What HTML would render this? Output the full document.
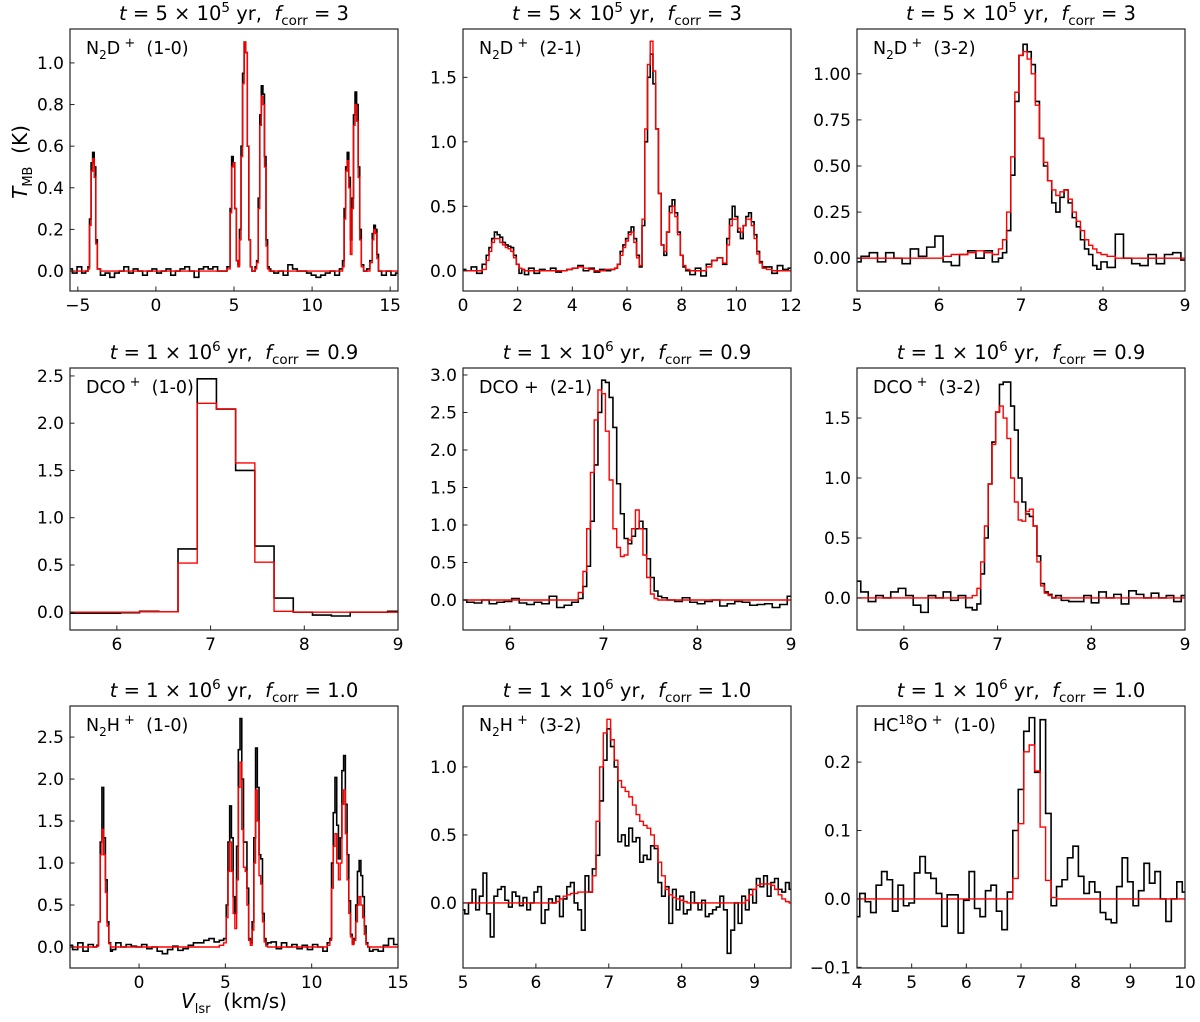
<!DOCTYPE html>
<html><head><meta charset="utf-8"><style>
html,body{margin:0;padding:0;background:#fff;}
svg{display:block;font-family:"DejaVu Sans","Liberation Sans",sans-serif;}
</style></head><body>
<svg id="fig" width="1200" height="1022" viewBox="0 0 1200 1022" xmlns="http://www.w3.org/2000/svg">
<rect width="1200" height="1022" fill="#fff"/>
<text transform="translate(27,162) rotate(-90)" text-anchor="middle" font-size="20"><tspan font-style="italic">T</tspan><tspan font-size="13" dy="5">MB</tspan><tspan dy="-5">&#160;&#160;(K)</tspan></text>
<text x="234" y="1008" text-anchor="middle" font-size="20"><tspan font-style="italic">V</tspan><tspan font-size="13" dy="5">lsr</tspan><tspan dy="-5">&#160;&#160;(km/s)</tspan></text>
</svg>
<script>
// ---- Panel 1: N2D+ (1-0)
const p1Vel = [-5.5,-5.2,-4.9,-4.6,-4.4,
 -4.3,-4.2,-4.1,-4.0,-3.9,-3.8,-3.7,
 -3.4,-3.1,-2.8,-2.5,-2.2,-1.9,-1.6,-1.3,-1.0,-0.7,-0.4,-0.1,0.2,0.5,0.8,1.1,1.4,1.7,2.0,2.3,2.6,2.9,3.2,3.5,3.8,4.1,4.4,
 4.7,4.8,4.9,5.0,5.1,5.2,5.3,5.4,5.5,5.6,5.7,5.8,5.9,6.0,6.1,6.2,6.3,6.4,6.5,6.6,6.7,6.8,6.9,7.0,7.1,7.2,7.3,7.4,
 7.7,8.0,8.3,8.6,8.9,9.2,9.5,9.8,10.1,10.4,10.7,11.0,11.3,11.6,11.9,
 12.0,12.1,12.2,12.3,12.4,12.5,12.6,12.7,12.8,12.9,13.0,13.1,13.2,13.4,13.6,13.8,13.9,14.0,14.1,14.2,14.3,
 14.6,14.9,15.2,15.5];
const p1Obs = [0.01,-0.01,0.02,-0.01,0.0,
 0.02,0.25,0.52,0.57,0.50,0.15,0.01,
 -0.02,-0.01,-0.03,-0.01,0.0,0.02,-0.01,0.01,0.0,-0.02,0.0,0.01,-0.01,0.0,0.01,-0.02,0.0,0.01,0.02,0.0,-0.03,0.01,0.02,0.01,0.02,0.0,0.0,
 0.02,0.3,0.55,0.52,0.3,0.05,0.03,0.2,0.6,0.95,1.10,1.05,0.6,0.15,0.02,0.0,0.0,0.02,0.05,0.35,0.75,0.89,0.85,0.55,0.15,0.02,0.01,0.0,
 -0.01,0.0,-0.02,0.03,0.01,0.0,0.0,-0.01,-0.02,-0.03,-0.02,-0.01,0.0,-0.02,0.01,
 0.05,0.3,0.5,0.57,0.45,0.15,0.35,0.75,0.86,0.8,0.5,0.2,0.03,0.0,0.01,0.05,0.18,0.22,0.2,0.08,0.0,
 -0.02,0.0,-0.02,-0.01];
const p1Mod = [0,0,0,0,0,
 0.01,0.22,0.48,0.54,0.45,0.13,0.01,
 0,0,0,0,0,0,0,0,0,0,0,0,0,0,0,0,0,0,0,0,0,0,0,0,0,0,0,
 0.01,0.28,0.50,0.52,0.3,0.05,0.02,0.15,0.55,0.9,1.10,1.05,0.6,0.15,0.02,0.0,0.0,0.01,0.04,0.3,0.7,0.84,0.80,0.5,0.12,0.01,0.0,0.0,
 0,0,0,0,0,0,0,0,0,0,0,0,0,0,0,
 0.02,0.25,0.48,0.53,0.4,0.08,0.3,0.7,0.80,0.72,0.45,0.15,0.02,0.0,0.0,0.04,0.15,0.20,0.18,0.06,0.0,
 0,0,0,0];
const p1XTicks = [-5,0,5,10,15];
const p1YTicks = [0,0.2,0.4,0.6,0.8,1.0];
const p1YLabels = ["0.0","0.2","0.4","0.6","0.8","1.0"];

// ---- Panel 2: N2D+ (2-1)
const p2Vel = [0,0.2,0.4,0.6,0.8,
 0.9,1.0,1.1,1.2,1.3,1.4,1.5,1.6,1.7,1.8,1.9,2.0,2.1,2.2,2.3,
 2.5,2.7,2.9,3.1,3.3,3.5,3.7,3.9,4.1,4.3,4.5,4.7,4.9,5.1,5.3,5.5,
 5.6,5.7,5.8,5.9,6.0,6.1,6.2,6.3,6.4,6.5,6.6,6.7,6.8,6.9,7.0,7.1,7.2,7.3,7.4,7.5,7.6,7.7,7.8,7.9,8.0,8.1,8.2,
 8.4,8.6,8.8,9.0,9.2,9.4,9.6,
 9.7,9.8,9.9,10.0,10.1,10.2,10.3,10.4,10.5,10.6,10.7,10.8,10.9,11.0,
 11.2,11.4,11.6,11.8,12.0];
const p2Obs = [0.01,0.0,0.03,-0.02,0.05,
 0.12,0.18,0.25,0.30,0.28,0.26,0.22,0.20,0.19,0.18,0.12,0.05,-0.02,0.01,-0.03,
 0.02,-0.02,0.01,0.0,0.02,-0.01,0.0,0.01,0.02,0.04,0.0,0.02,-0.01,0.01,0.0,0.01,
 0.02,0.05,0.15,0.2,0.25,0.3,0.34,0.25,0.12,0.03,0.35,1.0,1.5,1.68,1.45,1.1,0.6,0.2,0.12,0.3,0.5,0.55,0.45,0.3,0.12,0.03,0.0,
 -0.03,0.02,-0.04,0.05,0.08,0.1,0.05,
 0.25,0.4,0.5,0.42,0.3,0.25,0.35,0.42,0.45,0.38,0.28,0.15,0.07,0.03,
 0.03,-0.02,0.04,0.01,0.02];
const p2Mod = [0,0,0,0,0.01,
 0.08,0.15,0.22,0.25,0.25,0.22,0.2,0.18,0.17,0.15,0.1,0.05,0.02,0.01,0.0,
 0,0,0,0,0,0,0,0.01,0.02,0.03,0.02,0.01,0.0,0.0,0.01,0.01,
 0.02,0.05,0.12,0.18,0.23,0.28,0.30,0.22,0.1,0.04,0.4,1.1,1.6,1.78,1.55,1.1,0.6,0.2,0.15,0.3,0.45,0.5,0.42,0.28,0.12,0.04,0.01,
 0,0,0,0.03,0.08,0.1,0.06,
 0.2,0.35,0.4,0.4,0.33,0.3,0.35,0.4,0.4,0.35,0.25,0.13,0.06,0.02,
 0.01,0,0,0,0];
const p2XTicks = [0,2,4,6,8,10,12];
const p2YTicks = [0,0.5,1.0,1.5];
const p2YLabels = ["0.0","0.5","1.0","1.5"];

// ---- Panel 3: N2D+ (3-2)
const p3Vel = [5.0,5.1,5.2,5.3,5.4,5.5,5.6,5.7,5.8,5.9,6.0,6.1,6.2,6.3,6.4,6.5,6.6,
 6.7,6.75,6.8,6.85,6.9,6.95,7.0,7.05,7.1,7.15,7.2,7.25,7.3,7.35,7.4,7.45,7.5,7.55,7.6,7.65,7.7,7.75,7.8,7.85,7.9,7.95,8.0,
 8.1,8.2,8.3,8.4,8.5,8.6,8.7,8.8,8.9,9.0];
const p3Obs = [-0.02,0.01,0.03,-0.02,0.03,0.0,-0.03,0.05,0.01,0.06,0.12,-0.02,-0.04,0.02,0.04,0.0,0.04,
 -0.02,0.0,0.03,0.15,0.45,0.85,1.1,1.16,1.12,1.05,0.85,0.65,0.5,0.42,0.3,0.25,0.33,0.37,0.3,0.22,0.17,0.1,0.05,0.02,-0.04,-0.06,-0.02,
 -0.05,0.13,0.0,-0.03,-0.04,0.02,-0.03,0.02,0.03,-0.01];
const p3Mod = [0,0,0,0,0,0,0,0,0,0,0,0.01,0.02,0.02,0.03,0.04,0.03,
 0.02,0.05,0.1,0.25,0.55,0.9,1.1,1.12,1.08,1.0,0.83,0.65,0.52,0.42,0.37,0.34,0.36,0.37,0.32,0.25,0.2,0.15,0.1,0.07,0.05,0.03,0.02,
 0.01,0,0,0,0,0,0,0,0,0];
const p3XTicks = [5,6,7,8,9];
const p3YTicks = [0,0.25,0.5,0.75,1.0];
const p3YLabels = ["0.00","0.25","0.50","0.75","1.00"];

// ---- Panel 4: DCO+ (1-0)
const p4Vel = [5.525,5.73,5.935,6.14,6.345,6.55,6.755,6.96,7.165,7.37,7.575,7.78,7.985,8.19,8.39,8.59,8.79,8.99];
const p4Obs = [-0.01,-0.01,-0.01,-0.005,0.01,0.005,0.67,2.47,2.15,1.5,0.7,0.15,0.0,-0.03,-0.04,0.0,0.0,0.01];
const p4Mod = [0,0,0,0,0.005,0.005,0.52,2.21,2.15,1.58,0.53,0.01,0,0,0,0,0,0];
const p4XTicks = [6,7,8,9];
const p4YTicks = [0,0.5,1.0,1.5,2.0,2.5];
const p4YLabels = ["0.0","0.5","1.0","1.5","2.0","2.5"];

// ---- Panel 5: DCO+ (2-1)
const p5Vel = [5.5,5.58,5.66,5.74,5.82,5.9,5.98,6.06,6.14,6.22,6.3,6.38,6.46,6.54,6.62,6.70,
 6.76,6.80,6.84,6.88,6.92,6.96,7.00,7.04,7.08,7.12,7.16,7.20,7.24,7.28,7.32,7.36,7.40,7.44,7.48,7.52,7.56,7.60,
 7.64,7.72,7.80,7.88,7.96,8.04,8.12,8.20,8.28,8.36,8.44,8.52,8.60,8.68,8.76,8.84,8.92,9.0];
const p5Obs = [0.0,-0.03,-0.04,0.0,-0.05,-0.03,-0.02,0.02,-0.04,-0.06,-0.03,-0.05,0.05,-0.1,-0.07,-0.03,
 0.02,0.18,0.45,1.05,1.8,2.5,2.93,2.9,2.7,2.3,1.55,1.15,0.82,0.75,0.85,0.95,1.05,0.95,0.55,0.3,0.12,0.05,
 0.03,0.0,-0.02,0.03,-0.03,-0.05,-0.02,0.0,-0.08,-0.05,-0.02,-0.03,-0.07,-0.06,-0.05,-0.1,-0.06,0.05];
const p5Mod = [0,0,0,0,0,0,0,0,0,0,0,0,0,0,0,0,
 0.1,0.38,0.95,1.7,2.4,2.8,2.75,2.25,1.6,0.95,0.7,0.58,0.6,0.8,0.95,1.2,0.95,0.6,0.3,0.08,0.02,0.0,
 0,0,0,0,0,0,0,0,0,0,0,0,0,0,0,0,0,0];
const p5XTicks = [6,7,8,9];
const p5YTicks = [0,0.5,1.0,1.5,2.0,2.5,3.0];
const p5YLabels = ["0.0","0.5","1.0","1.5","2.0","2.5","3.0"];

// ---- Panel 6: DCO+ (3-2)
const p6Vel = [5.5,5.58,5.66,5.74,5.82,5.9,5.98,6.06,6.14,6.22,6.3,6.38,6.46,6.54,6.62,6.70,
 6.76,6.80,6.84,6.88,6.92,6.96,7.00,7.04,7.08,7.12,7.16,7.20,7.24,7.28,7.32,7.36,7.40,7.44,7.48,7.52,7.56,7.60,
 7.64,7.72,7.80,7.88,7.96,8.04,8.12,8.20,8.28,8.36,8.44,8.52,8.60,8.68,8.76,8.84,8.92,9.0];
const p6Obs = [0.14,0.05,-0.03,0.02,0.0,0.05,0.08,0.02,-0.06,-0.12,0.02,0.0,0.05,-0.02,0.02,-0.08,
 -0.1,-0.05,0.2,0.5,0.95,1.3,1.55,1.78,1.8,1.8,1.6,1.4,1.0,0.8,0.7,0.68,0.6,0.35,0.12,0.05,0.03,0.0,
 0.02,-0.02,-0.03,-0.03,0.02,-0.04,0.05,0.0,0.03,-0.05,0.06,0.03,0.0,0.04,0.0,0.02,-0.03,0.02];
const p6Mod = [0,0,0,0,0,0,0,0,0,0,0,0,0,0,0,0,
 0.02,0.08,0.3,0.6,0.95,1.28,1.55,1.6,1.5,1.33,1.0,0.8,0.65,0.64,0.72,0.74,0.6,0.3,0.1,0.04,0.02,0.0,
 0,0,0,0,0,0,0,0,0,0,0,0,0,0,0,0,0,0];
const p6XTicks = [6,7,8,9];
const p6YTicks = [0,0.5,1.0,1.5];
const p6YLabels = ["0.0","0.5","1.0","1.5"];

// ---- Panel 7: N2H+ (1-0)
const p7Vel = [-4,-3.7,-3.4,-3.1,-2.8,
 -2.5,-2.4,-2.3,-2.2,-2.1,-2.0,-1.9,-1.8,-1.7,-1.6,-1.5,
 -1.2,-0.9,-0.6,-0.3,0.0,0.3,0.6,0.9,1.2,1.5,1.8,2.1,2.4,2.7,3.0,3.3,3.6,3.9,4.2,4.5,4.8,
 5.0,5.1,5.2,5.3,5.4,5.5,5.6,5.7,5.8,5.9,6.0,6.1,6.2,6.3,6.4,6.5,6.6,6.7,6.8,6.9,7.0,7.1,7.2,7.3,7.4,7.5,
 7.8,8.1,8.4,8.7,9.0,9.3,9.6,9.9,10.2,10.5,10.8,
 11.0,11.1,11.2,11.3,11.4,11.5,11.6,11.7,11.8,11.9,12.0,12.1,12.2,12.3,12.4,12.5,12.6,12.7,12.8,12.9,13.0,13.1,13.2,13.3,13.4,
 13.7,14.0,14.3,14.6,14.9];
const p7Obs = [0.02,-0.03,0.05,-0.05,0.03,
 0.0,0.02,0.3,1.25,1.9,1.3,0.8,0.3,0.05,-0.05,-0.03,
 0.05,0.0,0.03,0.01,0.0,0.03,-0.02,0.0,-0.05,-0.08,-0.03,0.01,-0.04,-0.02,0.02,0.05,0.05,0.08,0.1,0.06,0.08,
 0.1,0.5,1.25,1.68,1.3,0.6,0.4,1.2,2.35,2.72,2.0,1.25,1.25,0.7,0.1,0.05,0.3,1.3,2.37,1.9,1.1,1.05,0.4,0.1,0.03,0.05,
 0.06,-0.02,0.05,0.0,0.03,-0.02,0.02,-0.03,0.03,0.0,-0.05,
 0.05,0.1,1.0,1.6,2.02,1.45,1.05,1.3,2.1,2.28,1.7,1.1,0.55,0.15,0.05,0.1,0.5,0.9,1.03,0.85,0.6,0.25,0.05,0.0,-0.05,
 -0.03,-0.05,0.02,0.1,0.03];
const p7Mod = [0,0,0,0,0,
 0,0.01,0.3,1.1,1.4,1.1,0.65,0.25,0.04,0.0,0.0,
 0,0,0,0,0,0,0,0,0,0,0,0,0,0,0,0,0,0,0,0,0.02,
 0.05,0.35,0.9,1.25,0.9,0.4,0.22,0.8,1.9,2.2,1.4,0.95,0.9,0.5,0.08,0.02,0.2,1.0,1.87,1.5,0.85,0.75,0.3,0.06,0.01,0.0,
 0,0,0,0,0,0,0,0,0,0,0,
 0.02,0.08,0.7,1.2,1.35,1.0,0.8,1.0,1.7,1.87,1.35,0.8,0.4,0.12,0.03,0.08,0.3,0.5,0.6,0.5,0.35,0.15,0.03,0.0,0.0,
 0,0,0,0,0];
const p7XTicks = [0,5,10,15];
const p7YTicks = [0,0.5,1.0,1.5,2.0,2.5];
const p7YLabels = ["0.0","0.5","1.0","1.5","2.0","2.5"];

// ---- Panel 8: N2H+ (3-2), channels 5.00..9.50 step 0.05
const p8Start = 5.0, p8Step = 0.05;
const p8Obs = [-0.05,-0.08,0.0,0.1,-0.05,0.05,0.22,-0.08,-0.25,0.05,0.1,0.12,0.02,-0.03,0.08,0.05,-0.02,0.04,-0.05,0.0,
 0.08,0.12,-0.15,-0.05,0.03,0.0,0.05,-0.1,0.03,0.12,0.15,0.0,-0.05,-0.2,0.2,0.08,0.25,0.35,0.75,1.05,
 1.28,1.15,1.0,0.45,0.5,0.42,0.55,0.45,0.48,0.3,0.35,0.32,0.42,0.4,0.15,0.05,0.12,-0.15,0.1,-0.05,
 0.05,-0.08,-0.05,0.08,0.0,-0.05,0.02,-0.1,-0.08,-0.05,-0.03,0.05,-0.05,-0.37,-0.2,0.0,-0.15,0.05,-0.05,0.1,
 0.0,0.18,0.12,0.2,0.05,0.15,0.18,0.1,0.08,0.15,0.1];
const p8Mod = [0,0,0,0,0,0,0,0,0,0,0,0,0,0,0,0,0,0,0,0,
 0,0,0,0,0,0,0.01,0.03,0.05,0.06,0.07,0.07,0.08,0.08,0.08,0.08,0.2,0.6,1.0,1.25,
 1.35,1.2,1.05,0.9,0.85,0.82,0.78,0.72,0.65,0.6,0.57,0.55,0.5,0.42,0.3,0.2,0.1,0.06,0.04,0.03,
 0.02,0.01,0,0,0,0,0,0,0,0,0,0,0,0,0,0,0,0,0.02,0.06,
 0.1,0.13,0.14,0.14,0.14,0.13,0.1,0.06,0.03,0.01,0.0];
const p8XTicks = [5,6,7,8,9];
const p8YTicks = [0,0.5,1.0];
const p8YLabels = ["0.0","0.5","1.0"];

// ---- Panel 9: HC18O+ (1-0), channels 4.0..10.0 step 0.1
const p9Start = 4.0, p9Step = 0.1;
const p9Obs = [-0.026,0.008,-0.004,-0.02,0.02,0.04,0.028,-0.018,0.02,-0.01,
 -0.006,0.038,0.062,0.038,0.03,0.008,-0.04,0.006,0.006,-0.05,
 -0.002,0.04,-0.014,-0.026,0.012,0.02,-0.018,-0.045,0.01,0.1,
 0.16,0.245,0.265,0.185,0.262,0.125,-0.01,0.018,0.028,0.06,
 0.077,0.033,0.008,0.025,0.01,-0.02,-0.03,-0.035,0.018,0.06,
 0.025,-0.01,0.012,0.052,0.023,0.04,0.0,-0.033,0.0,0.025,0.01];
const p9Mod = [0,0,0,0,0,0,0,0,0,0,
 0,0,0,0,0,0,0,0,0,0,
 0,0,0,0,0,0,0,0,0,0.03,
 0.11,0.215,0.225,0.187,0.105,0.027,0.002,0,0,0,
 0,0,0,0,0,0,0,0,0,0,
 0,0,0,0,0,0,0,0,0,0,0];
const p9XTicks = [4,5,6,7,8,9,10];
const p9YTicks = [-0.1,0,0.1,0.2];
const p9YLabels = ["\u22120.1","0.0","0.1","0.2"];

function chanVel(start, step, n){ const v=[]; for(let i=0;i<n;i++) v.push(+(start+i*step).toFixed(4)); return v; }
const p8Vel = chanVel(p8Start, p8Step, p8Obs.length);
const p9Vel = chanVel(p9Start, p9Step, p9Obs.length);

const NS = "http://www.w3.org/2000/svg";
const svg = document.getElementById('fig');
function mk(tag, attrs, parent){ const e=document.createElementNS(NS,tag); for(const k in attrs) e.setAttribute(k,attrs[k]); (parent||svg).appendChild(e); return e; }

const colX = [70,463,857], rowY = [29,368,706], W = 328, H = 262;
const SP = '\u00a0';
const panels = [
 {c:0,r:0,xr:[-5.5,15.5],yr:[-0.096,1.163],vel:p1Vel,obs:p1Obs,mod:p1Mod,xt:p1XTicks,yt:p1YTicks,yl:p1YLabels,t:['5','5','3'],lab:['N','2','D','+','(1-0)'],name:'n2dp-1-0'},
 {c:1,r:0,xr:[0,12],yr:[-0.157,1.875],vel:p2Vel,obs:p2Obs,mod:p2Mod,xt:p2XTicks,yt:p2YTicks,yl:p2YLabels,t:['5','5','3'],lab:['N','2','D','+','(2-1)'],name:'n2dp-2-1'},
 {c:2,r:0,xr:[5,9],yr:[-0.178,1.243],vel:p3Vel,obs:p3Obs,mod:p3Mod,xt:p3XTicks,yt:p3YTicks,yl:p3YLabels,t:['5','5','3'],lab:['N','2','D','+','(3-2)'],name:'n2dp-3-2'},
 {c:0,r:1,xr:[5.5,9],yr:[-0.188,2.584],vel:p4Vel,obs:p4Obs,mod:p4Mod,xt:p4XTicks,yt:p4YTicks,yl:p4YLabels,t:['1','6','0.9'],lab:['DCO','','','+','(1-0)'],name:'dcop-1-0'},
 {c:1,r:1,xr:[5.5,9],yr:[-0.4,3.093],vel:p5Vel,obs:p5Obs,mod:p5Mod,xt:p5XTicks,yt:p5YTicks,yl:p5YLabels,t:['1','6','0.9'],lab:['DCO'+SP+'+','','','','(2-1)'],name:'dcop-2-1'},
 {c:2,r:1,xr:[5.5,9],yr:[-0.267,1.917],vel:p6Vel,obs:p6Obs,mod:p6Mod,xt:p6XTicks,yt:p6YTicks,yl:p6YLabels,t:['1','6','0.9'],lab:['DCO','','','+','(3-2)'],name:'dcop-3-2'},
 {c:0,r:2,xr:[-4,15],yr:[-0.25,2.87],vel:p7Vel,obs:p7Obs,mod:p7Mod,xt:p7XTicks,yt:p7YTicks,yl:p7YLabels,t:['1','6','1.0'],lab:['N','2','H','+','(1-0)'],name:'n2hp-1-0'},
 {c:1,r:2,xr:[5,9.5],yr:[-0.478,1.448],vel:p8Vel,obs:p8Obs,mod:p8Mod,xt:p8XTicks,yt:p8YTicks,yl:p8YLabels,t:['1','6','1.0'],lab:['N','2','H','+','(3-2)'],name:'n2hp-3-2'},
 {c:2,r:2,xr:[4,10],yr:[-0.101,0.282],vel:p9Vel,obs:p9Obs,mod:p9Mod,xt:p9XTicks,yt:p9YTicks,yl:p9YLabels,t:['1','6','1.0'],lab:['HC','18','O','+','(1-0)'],name:'hc18op-1-0'}
];

function stepPath(vel, vals, X, Y){
  const n = Math.min(vel.length, vals.length);
  let d='';
  for(let i=0;i<n;i++){
    const l = i===0 ? vel[0]-(vel[1]-vel[0])/2 : (vel[i-1]+vel[i])/2;
    const r = i===n-1 ? vel[n-1]+(vel[n-1]-vel[n-2])/2 : (vel[i]+vel[i+1])/2;
    const y = Y(vals[i]).toFixed(2);
    if(i===0) d += 'M'+X(l).toFixed(2)+' '+y; else d += 'V'+y;
    d += 'H'+X(r).toFixed(2);
  }
  return d;
}

panels.forEach((p,idx)=>{
  const x0=colX[p.c], y0=rowY[p.r];
  const X = v => x0 + (v-p.xr[0])/(p.xr[1]-p.xr[0])*W;
  const Y = t => y0 + H - (t-p.yr[0])/(p.yr[1]-p.yr[0])*H;
  const g = mk('g',{});
  
  
  const cp = mk('clipPath',{id:'clip'+idx}, g);
  mk('rect',{x:x0,y:y0,width:W,height:H},cp);
  const tt = mk('text',{x:x0+W/2,y:y0-9,'text-anchor':'middle','font-size':19.5}, g);
  
  
  tt.innerHTML = '<tspan font-style="italic">t</tspan> = '+p.t[0]+' \u00d7 10<tspan font-size="13.5" dy="-8">'+p.t[1]+'</tspan><tspan dy="8">'+SP+'yr,'+SP+SP+'</tspan><tspan font-style="italic">f</tspan><tspan font-size="13.5" dy="5">corr</tspan><tspan dy="-5"> = '+p.t[2]+'</tspan>';
  const ob = mk('path',{d:stepPath(p.vel,p.obs,X,Y),fill:'none',stroke:'#000','stroke-width':1.6,'clip-path':'url(#clip'+idx+')'}, g);
  
  
  const md = mk('path',{d:stepPath(p.vel,p.mod,X,Y),fill:'none',stroke:'#ff0000','stroke-width':1.4,'clip-path':'url(#clip'+idx+')'}, g);
  
  
  const fr = mk('rect',{x:x0,y:y0,width:W,height:H,fill:'none',stroke:'#222','stroke-width':1.2}, g);
  
  
  p.xt.forEach(v=>{
    const xx = X(v);
    const tk = mk('line',{x1:xx,x2:xx,y1:y0+H,y2:y0+H-4.5,stroke:'#222','stroke-width':1}, g);
    
    
    const tl = mk('text',{x:xx,y:y0+H+20,'text-anchor':'middle','font-size':17}, g);
    
    
    tl.textContent = v<0 ? '\u2212'+Math.abs(v) : String(v);
  });
  p.yt.forEach((v,i)=>{
    const yy = Y(v);
    const tk = mk('line',{x1:x0,x2:x0+4.5,y1:yy,y2:yy,stroke:'#222','stroke-width':1}, g);
    
    
    const tl = mk('text',{x:x0-6,y:yy+6,'text-anchor':'end','font-size':17}, g);
    
    
    tl.textContent = p.yl[i];
  });
  const lb = mk('text',{x:x0+16,y:y0+25,'font-size':17.5}, g);
  
  
  const L = p.lab;
  let h = L[0];
  if(L[1]) h += (L[0]==='HC' ? '<tspan font-size="12" dy="-7">'+L[1]+'</tspan><tspan dy="7">'+L[2]+'</tspan>' : '<tspan font-size="12" dy="5">'+L[1]+'</tspan><tspan dy="-5">'+L[2]+'</tspan>');
  if(L[3]) h += '<tspan font-size="13" dy="-7">'+SP+L[3]+'</tspan><tspan dy="7">'+SP+SP+L[4]+'</tspan>';
  else h += SP+SP+L[4];
  lb.innerHTML = h;
});
</script>
</body></html>
